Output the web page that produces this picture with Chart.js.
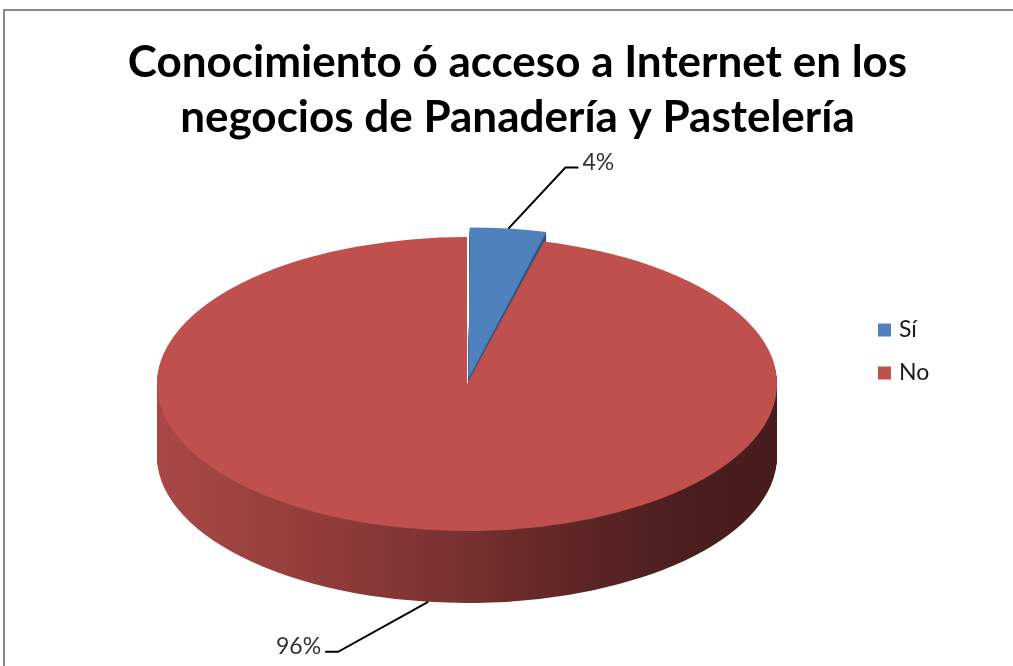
<!DOCTYPE html>
<html><head><meta charset="utf-8">
<script src="https://cdn.jsdelivr.net/npm/chart.js@4.4.1/dist/chart.umd.min.js"></script>
<style>
html,body{margin:0;padding:0;width:1013px;height:666px;overflow:hidden;background:#fff;}
#frame{position:absolute;left:3px;top:9px;width:1200px;height:800px;border:2px solid #8a8a8a;box-sizing:border-box;}
#wrap{position:absolute;left:0;top:0;width:1013px;height:666px;}
</style></head><body>
<div id="frame"></div>
<div id="wrap"><canvas id="c" width="1013" height="666"></canvas></div>
<script>
// ---- data ----
const titleLines = ['Conocimiento ó acceso a Internet en los', 'negocios de Panadería y Pastelería'];
const categories = ['Sí', 'No'];
const values = [4, 96];
const topColors = ['#4f81bd', '#c0504d'];
const sideStops = [
  [[0, '#3d6699'], [1, '#2a4770']],
  [[0, '#a94846'], [0.3, '#8e3b39'], [0.5, '#773030'], [0.7, '#5c2424'], [0.85, '#4c1e1e'], [1, '#481c1c']]
];
const explode = [30, 0];

// ---- style / geometry ----
const GEO = {cx: 467, cy: 384, rx: 310, ry: 147, depth: 72};
const LEADERS = [{dx: 57, dy: -61, ex: 13}, {dx: -90, dy: 50, ex: -13}];
const LEGEND = {x: 878, y: 330, gap: 43, box: 13, textX: 899};
const FONT = 'Lato, "Liberation Sans", sans-serif';

function geom(chart) {
  const meta = chart.getDatasetMeta(0);
  const ref = meta.data[1];
  const r0 = ref.outerRadius;
  return {meta, cx0: ref.x, cy0: ref.y, r0, sx: GEO.rx / r0, sy: GEO.ry / r0};
}
function applyT(ctx, g, dy) {
  ctx.translate(GEO.cx, GEO.cy + dy);
  ctx.scale(g.sx, g.sy);
  ctx.translate(-g.cx0, -g.cy0);
}

const pie3d = {
  id: 'pie3d',
  beforeDatasetsDraw(chart) {
    const ctx = chart.ctx;
    const g = geom(chart);
    const ArcEl = Chart.ArcElement;
    for (let d = GEO.depth; d >= 1; d--) {
      g.meta.data.forEach((arc, i) => {
        ctx.save();
        applyT(ctx, g, d);
        const grad = ctx.createLinearGradient(g.cx0 - g.r0, 0, g.cx0 + g.r0, 0);
        sideStops[i].forEach(s => grad.addColorStop(s[0], s[1]));
        const fake = Object.create(arc);
        Object.defineProperty(fake, 'options', {value: Object.assign({}, arc.options, {backgroundColor: grad, borderWidth: 0}), writable: true});
        ArcEl.prototype.draw.call(fake, ctx);
        ctx.restore();
      });
    }
    ctx.save();
    applyT(ctx, g, 0);
  },
  afterDatasetsDraw(chart) {
    const ctx = chart.ctx;
    ctx.restore();
    const g = geom(chart);
    const data = chart.data.datasets[0].data;
    const total = data.reduce((a, b) => a + b, 0);
    g.meta.data.forEach((arc, i) => {
      const mid = (arc.startAngle + arc.endAngle) / 2;
      const off = (arc.options.offset || 0) / 4;
      const fix = 1 - Math.sin(Math.min(Math.PI, arc.endAngle - arc.startAngle));
      const r = arc.outerRadius + off * fix + off;
      const x = arc.x + Math.cos(mid) * r, y = arc.y + Math.sin(mid) * r;
      const dy = Math.sin(mid) > 0 ? GEO.depth : 0;
      const ax = GEO.cx + (x - g.cx0) * g.sx;
      const ay = GEO.cy + dy + (y - g.cy0) * g.sy;
      const L = LEADERS[i];
      const bx = ax + L.dx, by = ay + L.dy, ex = bx + L.ex;
      ctx.save();
      ctx.strokeStyle = '#000';
      ctx.lineWidth = 2;
      ctx.beginPath();
      ctx.moveTo(ax, ay); ctx.lineTo(bx, by); ctx.lineTo(ex, by);
      ctx.stroke();
      ctx.fillStyle = '#333';
      ctx.font = '23px ' + FONT;
      ctx.textBaseline = 'middle';
      ctx.textAlign = L.ex > 0 ? 'left' : 'right';
      ctx.fillText(Math.round(data[i] / total * 100) + '%', ex + (L.ex > 0 ? 4 : -4), by - 5);
      ctx.restore();
    });
  },
  afterDraw(chart) {
    const ctx = chart.ctx;
    const ds = chart.data.datasets[0];
    chart.data.labels.forEach((lab, i) => {
      const cy = LEGEND.y + i * LEGEND.gap;
      ctx.save();
      ctx.fillStyle = ds.backgroundColor[i];
      ctx.fillRect(LEGEND.x, cy - LEGEND.box / 2, LEGEND.box, LEGEND.box);
      ctx.fillStyle = '#1a1a1a';
      ctx.font = '23px ' + FONT;
      ctx.textBaseline = 'middle';
      ctx.textAlign = 'left';
      ctx.fillText(lab, LEGEND.textX, cy);
      ctx.restore();
    });
  }
};

new Chart(document.getElementById('c'), {
  type: 'pie',
  data: {
    labels: categories,
    datasets: [{
      data: values,
      backgroundColor: topColors,
      borderWidth: 0,
      offset: explode,
      clip: false
    }]
  },
  options: {
    responsive: false,
    animation: false,
    events: [],
    radius: 200,
    layout: {padding: {left: 22, right: 0, top: 0, bottom: 0}},
    plugins: {
      legend: {display: false},
      tooltip: {enabled: false},
      title: {
        display: true,
        text: titleLines,
        color: '#000',
        font: {family: FONT, size: 44, weight: 'bold', lineHeight: 1.25},
        padding: {top: 35, bottom: 10}
      }
    }
  },
  plugins: [pie3d]
});
</script>
</body></html>
